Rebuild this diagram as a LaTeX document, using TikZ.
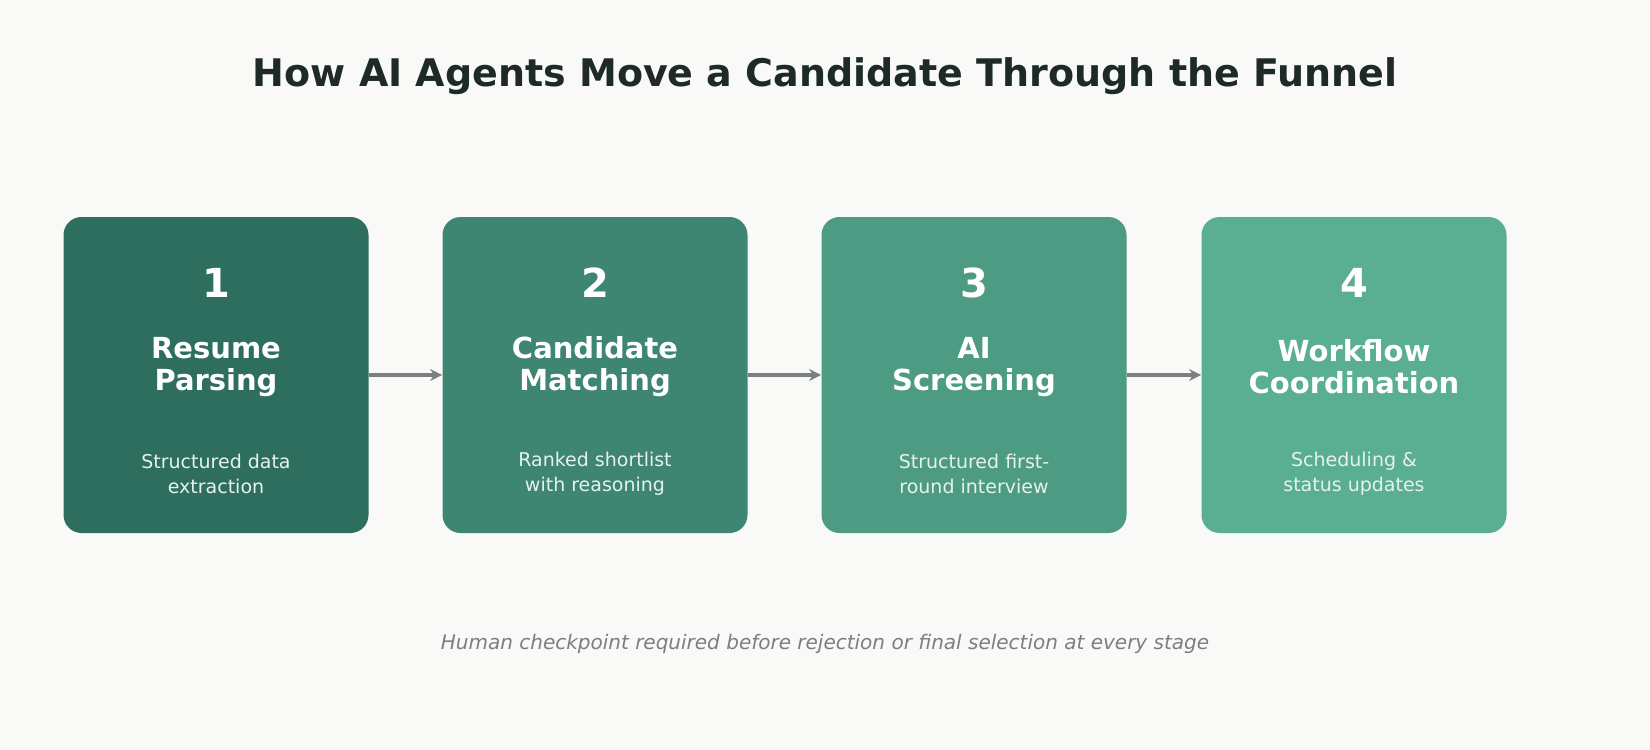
\documentclass[tikz,border=0pt]{standalone}
\usepackage{fontspec}
\setmainfont{DejaVu Sans}
\usetikzlibrary{arrows.meta}
\definecolor{bgcol}{HTML}{F9F9F8}
\definecolor{titlecol}{HTML}{1E2A25}
\definecolor{stepa}{HTML}{2E6E5E}
\definecolor{stepb}{HTML}{3E8572}
\definecolor{stepc}{HTML}{4E9B83}
\definecolor{stepd}{HTML}{5AAE91}
\definecolor{arrowcol}{HTML}{7A807D}
\definecolor{subcol}{HTML}{E6F2EC}
\tikzset{
  stage/.style={rounded corners=9pt, minimum width=152.5pt, minimum height=158pt, inner sep=0pt},
  stepnum/.style={text=white, font=\bfseries\fontsize{20}{24}\selectfont},
  steptitle/.style={text=white, align=center, font=\bfseries\fontsize{14.5}{16}\selectfont},
  stepsub/.style={text=subcol, align=center, font=\fontsize{9.5}{12.5}\selectfont},
  flow/.style={draw=arrowcol, line width=2pt, -{Stealth[length=6pt,width=6pt]}}
}
\begin{document}
\begin{tikzpicture}[x=0.5pt,y=0.5pt,yscale=-1,xscale=1]
	%background
	\fill [bgcol] (0,0) rectangle (1650,750);
	\useasboundingbox (0,0) rectangle (1650,750);
	
	% Title
	\node (title) at (825,76) [text=titlecol, font=\bfseries\fontsize{19}{22}\selectfont] {How AI Agents Move a Candidate Through the Funnel};
	
	% Stage boxes
	\node (s1) at (216,375) [stage, fill=stepa] {};
	\node (s2) at (595,375) [stage, fill=stepb] {};
	\node (s3) at (974,375) [stage, fill=stepc] {};
	\node (s4) at (1354,375) [stage, fill=stepd] {};
	
	% Stage 1
	\node (n1) at (216,283) [stepnum] {1};
	\node (t1) at (216,367) [steptitle] {Resume\\Parsing};
	\node (d1) at (216,474) [stepsub] {Structured data\\extraction};
	% Stage 2
	\node (n2) at (595,283) [stepnum] {2};
	\node (t2) at (595,367) [steptitle] {Candidate\\Matching};
	\node (d2) at (595,474) [stepsub] {Ranked shortlist\\with reasoning};
	% Stage 3
	\node (n3) at (974,283) [stepnum] {3};
	\node (t3) at (974,367) [steptitle] {AI\\Screening};
	\node (d3) at (974,474) [stepsub] {Structured first-\\round interview};
	% Stage 4
	\node (n4) at (1354,283) [stepnum] {4};
	\node (t4) at (1354,367) [steptitle] {Workflow\\Coordination};
	\node (d4) at (1354,474) [stepsub] {Scheduling \&\\status updates};
	
	% Arrows
	\draw [flow] (s1.east) -- (s2.west);
	\draw [flow] (s2.east) -- (s3.west);
	\draw [flow] (s3.east) -- (s4.west);
	
	% Footer
	\node (note) at (825,644) [text=arrowcol, font=\itshape\fontsize{10}{12}\selectfont] {Human checkpoint required before rejection or final selection at every stage};
\end{tikzpicture}
\end{document}
